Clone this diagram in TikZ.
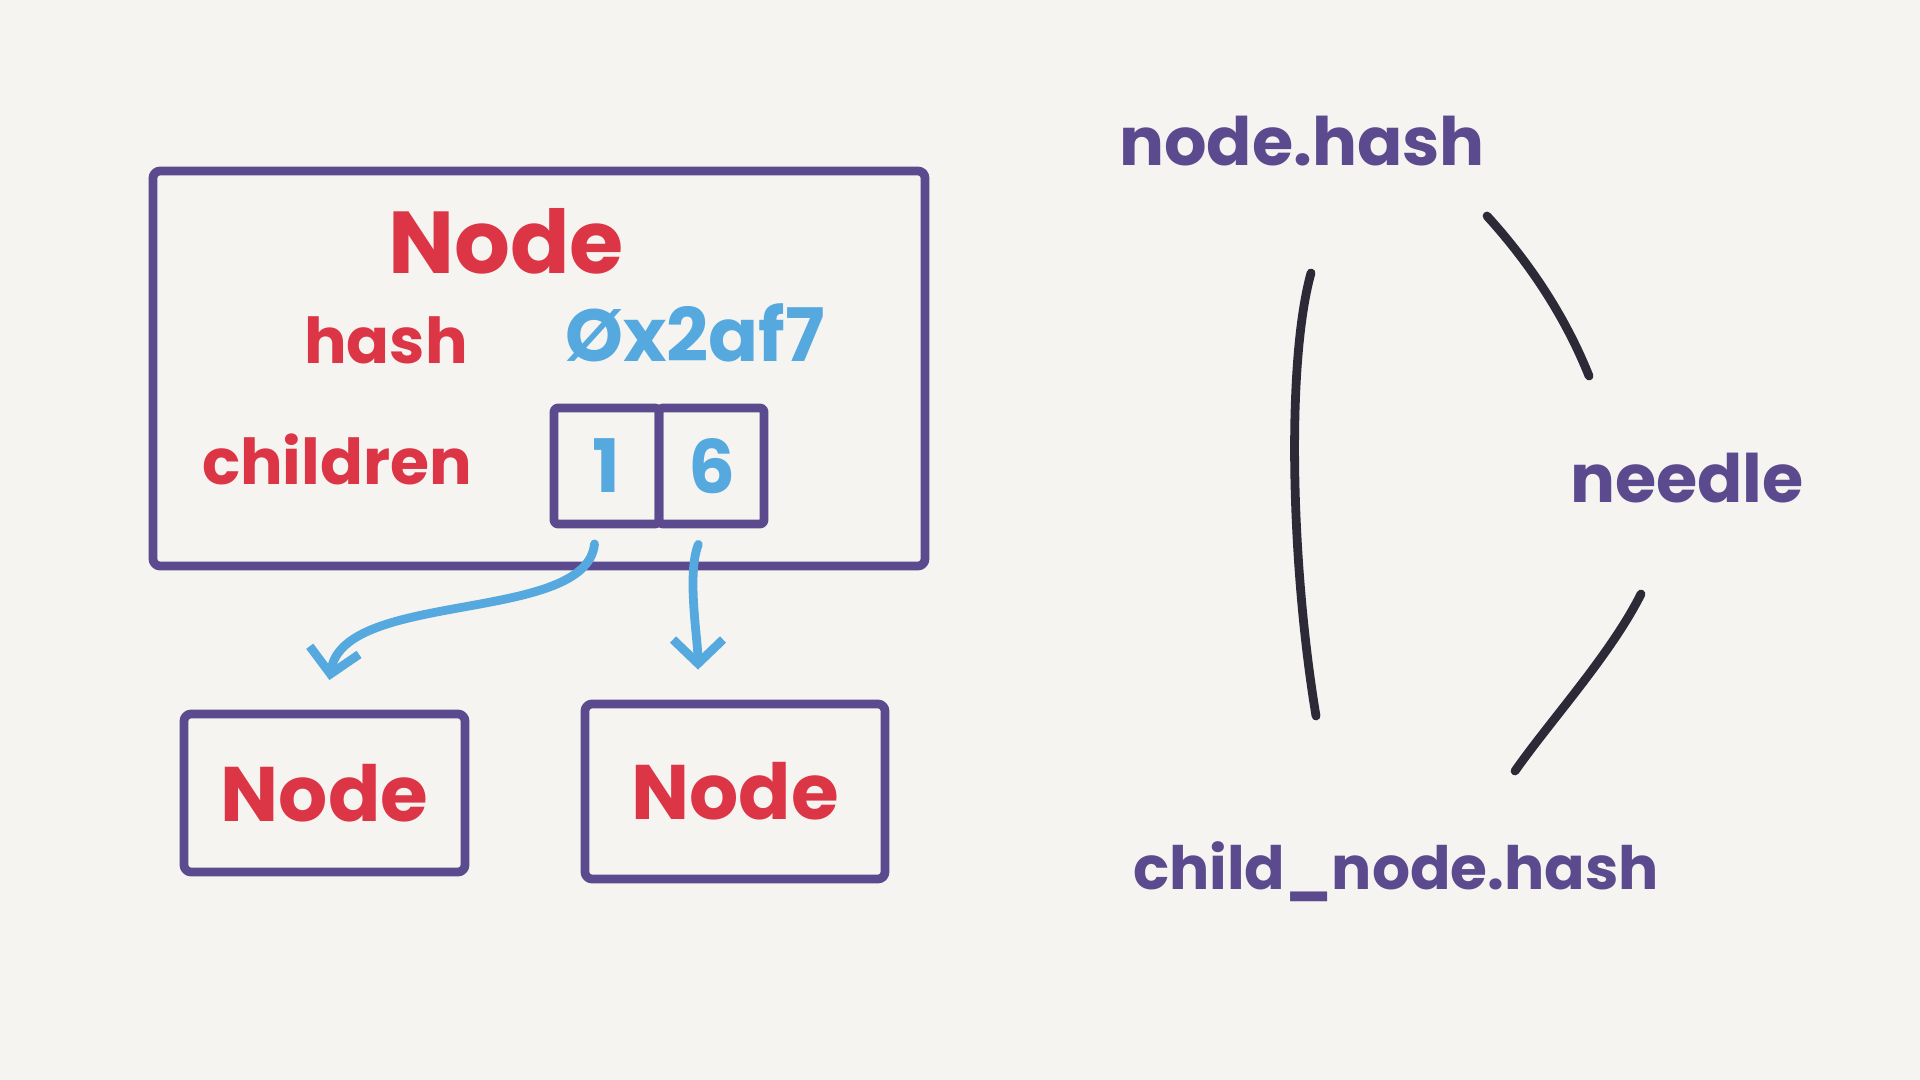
\documentclass[tikz,border=0pt]{standalone}
\usepackage{fontspec}
\setmainfont{Poppins}
\usetikzlibrary{arrows.meta,positioning,calc}
\definecolor{sketchbg}{HTML}{F5F4F1}
\definecolor{sketchpurple}{HTML}{5B4A8E}
\definecolor{sketchred}{HTML}{DC3545}
\definecolor{sketchblue}{HTML}{55A9DE}
\definecolor{sketchink}{HTML}{2D2A38}
\tikzset{
  frame/.style={draw=sketchpurple, line width=2.5pt, line cap=round, line join=round, rounded corners=2pt, inner sep=0pt},
  title/.style={text=sketchred, font=\fontsize{25}{30}\selectfont\bfseries},
  childtitle/.style={text=sketchred, font=\fontsize{22}{26}\selectfont\bfseries},
  field/.style={text=sketchred, font=\fontsize{18}{22}\selectfont\bfseries},
  value/.style={text=sketchblue, font=\fontsize{21}{25}\selectfont\bfseries},
  cell/.style={frame, rounded corners=1pt, outer sep=0pt, minimum width=1.05cm, minimum height=1.16cm, text=sketchblue, font=\fontsize{21}{25}\selectfont\bfseries},
  term/.style={text=sketchpurple, font=\fontsize{19}{23}\selectfont\bfseries},
  pointer/.style={draw=sketchblue, line width=2.5pt, line cap=round, -{Straight Barb[length=2.4mm, width=5mm]}},
  link/.style={draw=sketchink, line width=2.5pt, line cap=round}
}
\begin{document}
\begin{tikzpicture}
  \fill[sketchbg] (0,0) rectangle (19.2,-10.8);
  \useasboundingbox (0,0) rectangle (19.2,-10.8);

  % the parent node
  \node[frame, minimum width=7.72cm, minimum height=3.95cm] (parent) at (5.39,-3.685) {};
  \node[title] (parenttitle) at (5.06,-2.41) {Node};
  \node[field] (hashkey) at (3.86,-3.40) {hash};
  \node[value] (hashval) at (6.95,-3.33) {Øx2af7};
  \node[field] (childkey) at (3.37,-4.59) {children};
  \node[cell] (cellone) at (6.065,-4.66) {1};
  \node[cell, right=0pt of cellone] (cellsix) {6};

  % children
  \node[frame, childtitle, minimum width=2.81cm, minimum height=1.58cm] (leftchild) at (3.245,-7.93) {Node};
  \node[frame, childtitle, minimum width=3.0cm, minimum height=1.75cm] (rightchild) at (7.35,-7.915) {Node};

  \draw[pointer, shorten <=0.2cm, shorten >=0.3cm] ([xshift=-1mm]cellone.south) .. controls +(-0.1,-1.0) and +(0.2,1.2) .. (leftchild.north);
  \draw[pointer, shorten <=0.22cm, shorten >=0.3cm] ([xshift=-0.5mm]cellsix.south) .. controls +(-0.2,-0.5) and +(0,0.6) .. ([xshift=-3.7mm]rightchild.north);

  % hashes
  \node[term] (nodehash) at (13.02,-1.41) {node.hash};
  \node[term] (needle) at (16.87,-4.78) {needle};
  \node[term, font=\fontsize{17}{21}\selectfont\bfseries] (childhash) at (13.96,-8.72) {child\_node.hash};

  \draw[link] ($(nodehash.center)+(0.09,-1.32)$) .. controls +(-0.25,-0.9) and +(-0.25,1.5) .. ($(childhash.center)+(-0.80,1.56)$);
  \draw[link] ($(nodehash.center)+(1.85,-0.75)$) .. controls +(0.5,-0.55) and +(-0.2,0.5) .. ($(needle.center)+(-0.98,1.02)$);
  \draw[link] ($(needle.center)+(-0.46,-1.16)$) .. controls +(-0.3,-0.6) and +(0.35,0.5) .. ($(childhash.center)+(1.19,1.01)$);
\end{tikzpicture}
\end{document}
